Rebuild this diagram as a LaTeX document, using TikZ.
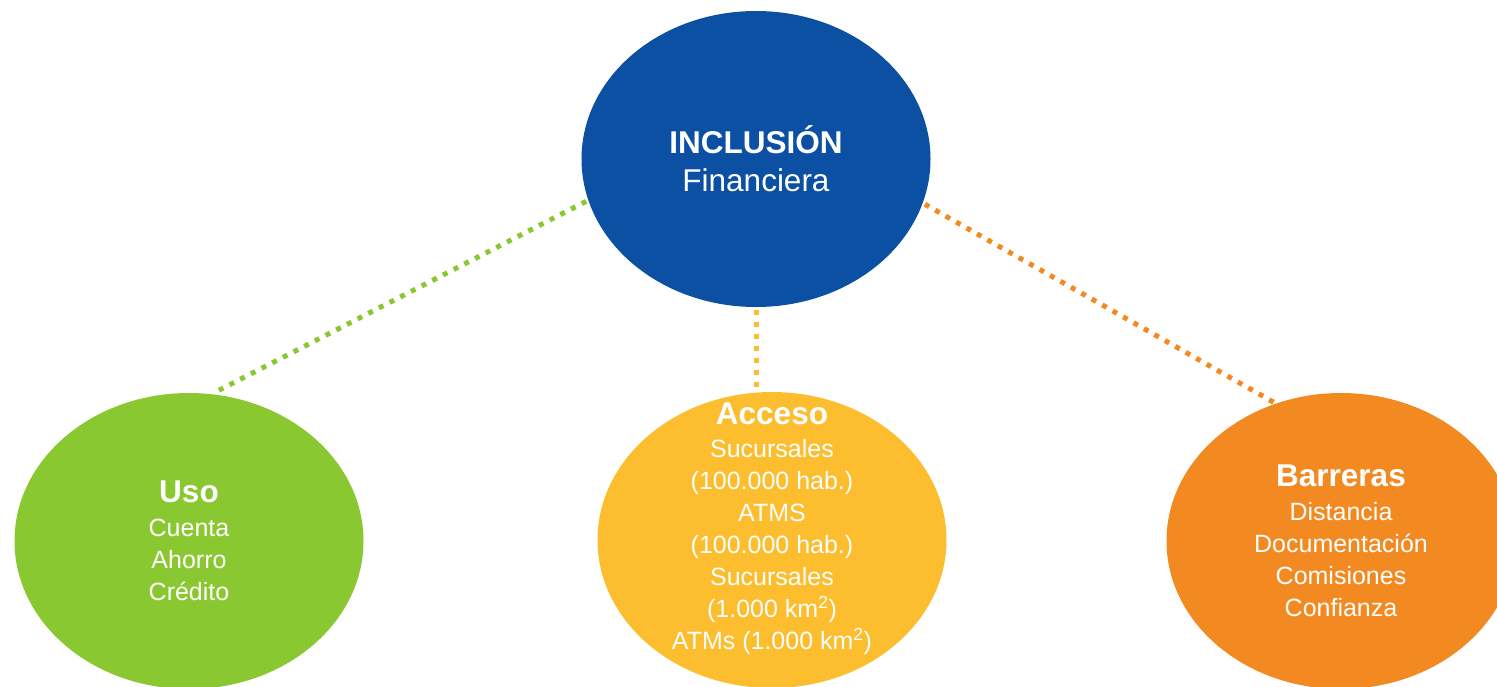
\documentclass[tikz,border=0pt]{standalone}
\usepackage{fontspec}
\setmainfont{Liberation Sans}
\usetikzlibrary{shapes.geometric}

\definecolor{azul}{HTML}{0B50A3}
\definecolor{verde}{HTML}{8AC831}
\definecolor{amarillo}{HTML}{FCBD2E}
\definecolor{naranja}{HTML}{F38A21}

\begin{document}
\begin{tikzpicture}[x=1pt, y=-1pt,
                    line width=5pt,
                    every label/.style={text=white, align=center}]
    \tikzstyle{bubble}=[ellipse, minimum width=349pt, minimum height=296pt, inner sep=0pt,
                        text=white, align=center, font=\fontsize{25}{32}\selectfont]
    \tikzstyle{main}=[bubble, fill=azul, font=\fontsize{31.5}{38}\selectfont]
    \tikzstyle{usobox}=[bubble, fill=verde]
    \tikzstyle{accbox}=[bubble, fill=amarillo]
    \tikzstyle{barbox}=[bubble, fill=naranja]
    \tikzstyle{link}=[dash pattern=on 5pt off 7pt]
    \newcommand{\titulo}[1]{{\bfseries\fontsize{31.5}{32}\selectfont #1}}

    \clip (0,0) rectangle (1497,686);
    \useasboundingbox (0,0) rectangle (1497,686);

    \node[main] (inc) at (756,159) {\bfseries INCLUSIÓN\\ Financiera};
    \node[usobox] (uso) at (189,541) {\titulo{Uso}\\[2pt] Cuenta\\ Ahorro\\ Crédito};
    \node[accbox, label={[font=\fontsize{25}{32}\selectfont, yshift=11pt]center:
        \titulo{Acceso}\\[1pt] Sucursales\\ (100.000 hab.)\\ ATMS\\ (100.000 hab.)\\
        Sucursales\\ (1.000 km\textsuperscript{2})\\ ATMs (1.000 km\textsuperscript{2})}]
        (acc) at (772,540) {};
    \node[barbox] (bar) at (1341,541) {\titulo{Barreras}\\[2pt] Distancia\\ Documentación\\ Comisiones\\ Confianza};

    \draw[link, verde] (inc.194) -- (uso.80);
    \draw[link, amarillo] (inc.south) -- (inc.south |- acc.north);
    \draw[link, naranja, shorten >=-10pt] (inc.345) -- (bar.116);
\end{tikzpicture}
\end{document}
